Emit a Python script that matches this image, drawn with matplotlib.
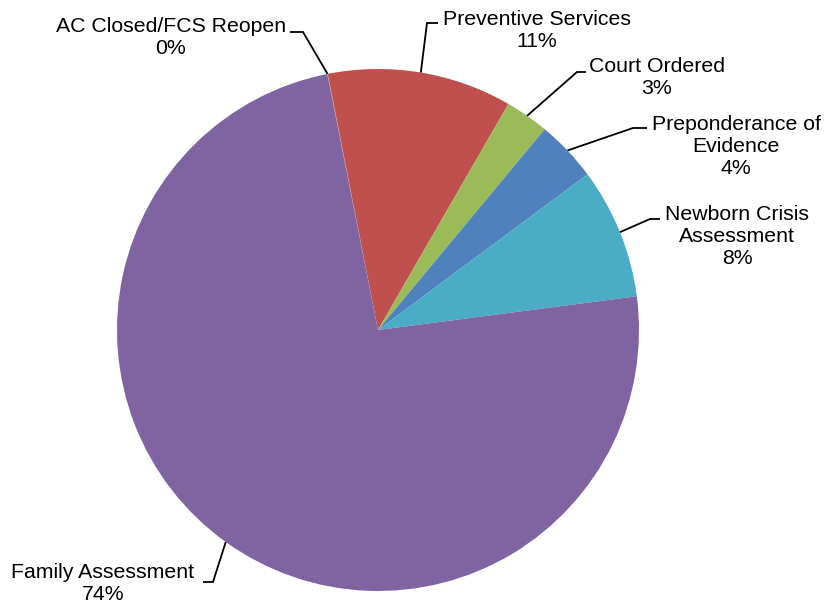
import numpy as np
import matplotlib.pyplot as plt

plt.rcParams['font.family'] = ['Liberation Sans', 'DejaVu Sans']

# --- data ---
names = ['AC Closed/FCS Reopen', 'Preventive Services', 'Court Ordered',
         'Preponderance of\nEvidence', 'Newborn Crisis\nAssessment',
         'Family Assessment']
shares = [0.03, 11.4, 2.7, 3.8, 8.1, 73.9]
pct_labels = ['0%', '11%', '3%', '4%', '8%', '74%']
colors = ['#F79646', '#C0504D', '#9BBB59', '#4F81BD', '#4BACC6', '#8064A2']

# --- layout (pixel coords, y from top) ---
W, H = 825, 605
cx, cy, R = 378, 330, 261
# label block centre, leader elbow, leader end
label_pos = [(171, 37), (537, 30.5), (657, 77.5), (736, 147), (737, 236), (103, 583.5)]
elbows = [(303, 32), (427, 23), (577, 72), (633, 128), (650, 219), (213, 582)]
ends = [(290, 32), (438, 23), (586, 72), (647, 128), (660, 219), (203, 582)]

fig = plt.figure(figsize=(W / 100, H / 100), dpi=100)
ax = fig.add_axes([0, 0, 1, 1])

wedges, _ = ax.pie(shares, colors=colors, startangle=101.2, counterclock=False,
                   radius=R, center=(cx, H - cy),
                   wedgeprops=dict(linewidth=0))
ax.set_xlim(0, W)
ax.set_ylim(0, H)
ax.set_aspect('equal')
ax.axis('off')

for w, name, pct, lp, el, en in zip(wedges, names, pct_labels, label_pos, elbows, ends):
    mid = np.deg2rad((w.theta1 + w.theta2) / 2)
    sx = cx + R * np.cos(mid)
    sy = (H - cy) + R * np.sin(mid)
    ax.plot([sx, el[0], en[0]], [sy, H - el[1], H - en[1]], color='black', lw=1.3,
            solid_capstyle='butt', solid_joinstyle='miter')
    ax.text(lp[0], H - lp[1], name + '\n' + pct, ha='center', va='center',
            fontsize=15.3, linespacing=1.2, color='black')

fig.savefig('out.png', dpi=100)
